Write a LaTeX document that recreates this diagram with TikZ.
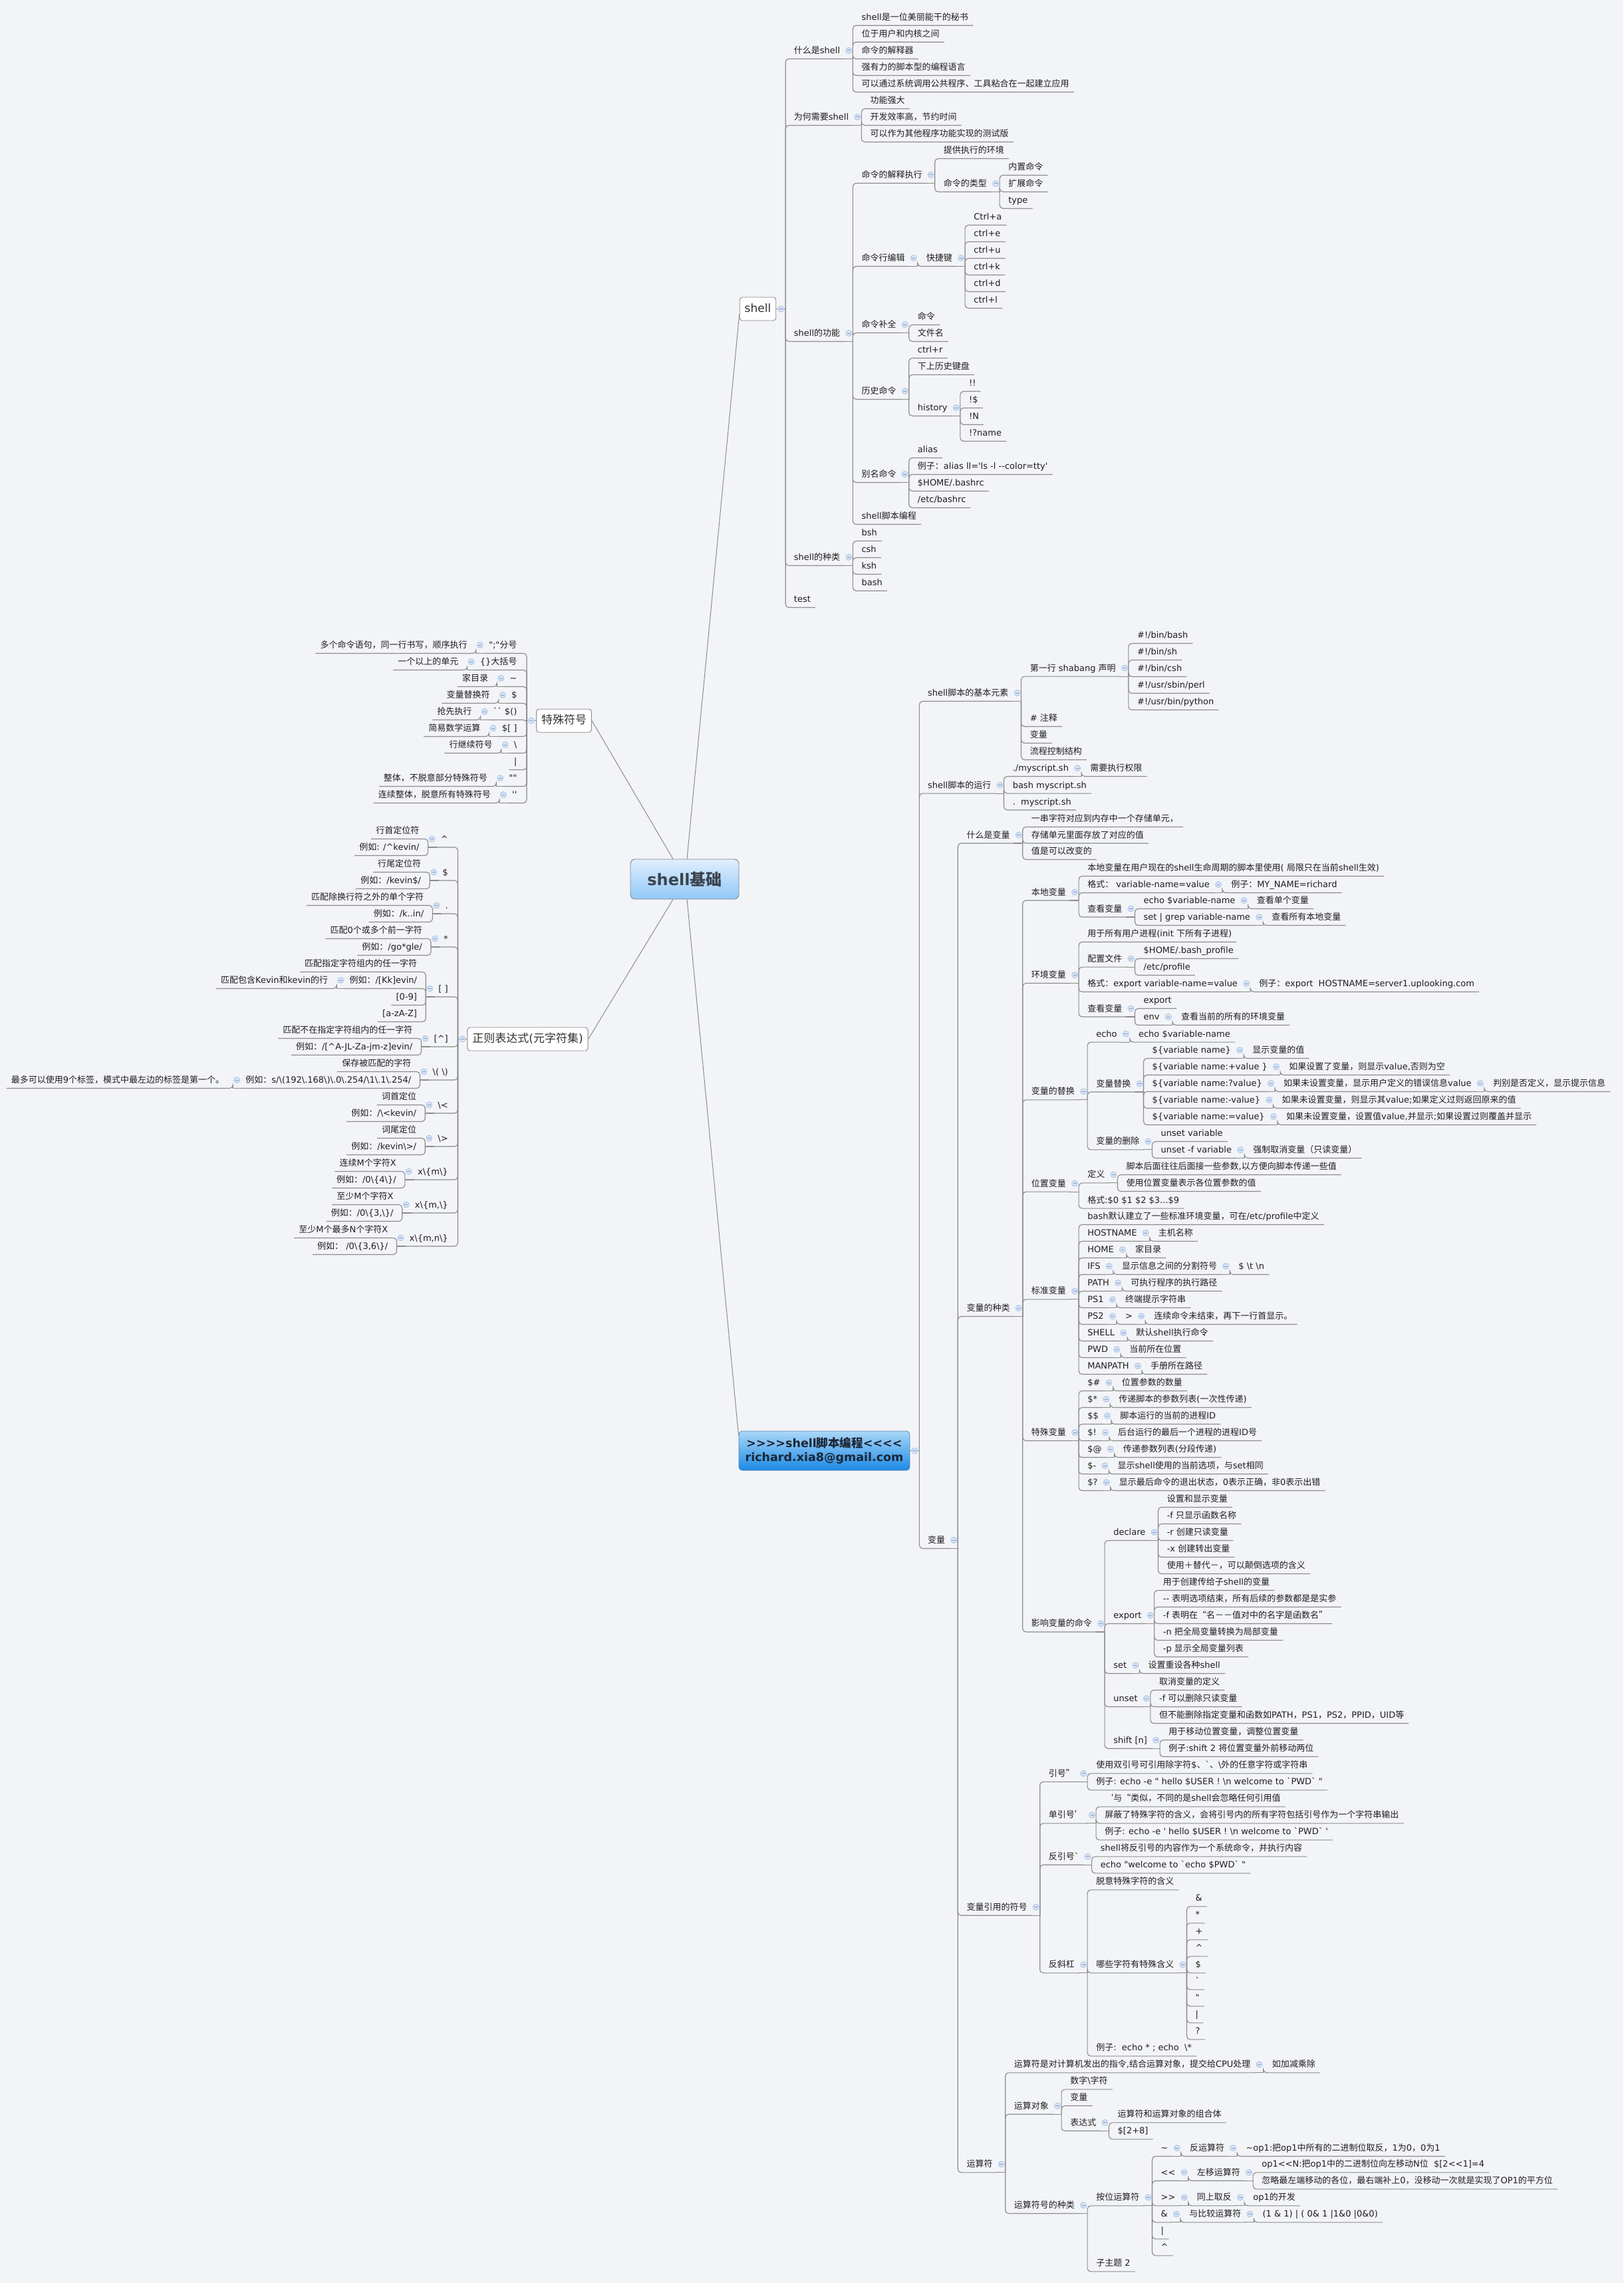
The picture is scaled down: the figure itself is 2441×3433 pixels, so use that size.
\documentclass[tikz,border=0pt]{standalone}
\usepackage{fontspec}
\usetikzlibrary{calc}
\newfontfamily\latinfam{DejaVu Sans}
\newfontfamily\cjkfam{Noto Sans CJK SC}
\XeTeXinterchartokenstate=1
\newXeTeXintercharclass\CJKcls
\newcount\mmcnt
\def\mmrange#1#2{\mmcnt=#1\relax\loop\XeTeXcharclass\mmcnt=\CJKcls\relax\ifnum\mmcnt<#2\relax\advance\mmcnt by 1\repeat}
\mmrange{"4E00}{"9FFF}
\mmrange{"3000}{"303F}
\mmrange{"FF00}{"FFEF}
\mmrange{"2018}{"2019}
\mmrange{"201C}{"201D}
\XeTeXinterchartoks 0 \CJKcls = {\cjkfam}
\XeTeXinterchartoks \CJKcls 0 = {\latinfam}
\XeTeXinterchartoks 4095 \CJKcls = {\cjkfam}
\XeTeXinterchartoks \CJKcls 4095 = {\latinfam}
\definecolor{bg}{RGB}{243,244,248}
\definecolor{lnc}{RGB}{140,140,140}
\definecolor{txtc}{RGB}{30,30,30}
\definecolor{txtc2}{RGB}{50,50,50}
\definecolor{boxc}{RGB}{135,135,135}
\definecolor{ccf}{RGB}{214,227,245}
\definecolor{ccl}{RGB}{168,190,222}
\definecolor{ccmc}{RGB}{125,155,205}
\definecolor{roottop}{RGB}{224,239,253}
\definecolor{rootbot}{RGB}{146,200,248}
\definecolor{rootline}{RGB}{120,130,140}
\definecolor{roottext}{RGB}{60,68,80}
\definecolor{bctop}{RGB}{170,215,248}
\definecolor{bcbot}{RGB}{26,138,230}
\definecolor{bcline}{RGB}{90,130,170}
\definecolor{bctext}{RGB}{28,38,52}
\newcommand\bk{\textbackslash}
\tikzset{
 tx/.style={inner sep=0pt, text height=11pt, text depth=2pt, text=txtc, font=\fontsize{13}{15}\selectfont\latinfam},
 ln/.style={draw=lnc, line width=1.15pt, rounded corners=5pt},
 ln2/.style={draw=lnc, line width=1pt},
 ccs/.style={draw=ccl, fill=ccf, line width=0.7pt},
 ccm/.style={draw=ccmc, line width=1pt},
 mbox/.style={draw=boxc, fill=white, rounded corners=4pt, line width=0.9pt, inner xsep=7.5pt, inner ysep=0pt, minimum height=35pt, text height=13pt, text depth=3pt, text=txtc2, font=\fontsize{17}{20}\selectfont\latinfam},
 rootbox/.style={draw=rootline, top color=roottop, bottom color=rootbot, rounded corners=7pt, line width=0.9pt, minimum width=163pt, minimum height=60pt, text=roottext, font=\fontsize{24}{28}\selectfont\latinfam\bfseries},
 bcbox/.style={draw=bcline, top color=bctop, bottom color=bcbot, rounded corners=5pt, line width=0.8pt, minimum width=257pt, minimum height=59pt, align=center, inner sep=2pt, text=bctext, font=\fontsize{17.5}{21.5}\selectfont\latinfam\bfseries}
}
\newcommand\mmRC[5][32]{\path (#3.east) ++(#1,0) coordinate (tmp);\node[tx,anchor=west] (#2) at (tmp |- 0,#4) {#5};}
\newcommand\mmLC[5][32]{\path (#3.west) ++(-#1,0) coordinate (tmp);\node[tx,anchor=east] (#2) at (tmp |- 0,#4) {#5};}
\newcommand\mmR[4]{\mmRC{#1}{#2}{#3}{#4}\draw[ln] ($(#2.east)+(19,12.5)$) |- ($(#1.east)+(7,12.5)$);}
\newcommand\mmL[4]{\mmLC{#1}{#2}{#3}{#4}\draw[ln] ($(#2.west)+(-19,12.5)$) |- ($(#1.west)+(-7,12.5)$);}
\newcommand\mmRB[4]{\mmRC[26.5]{#1}{#2}{#3}{#4}\draw[ln] ($(#2.east)+(14,0)$) |- ($(#1.east)+(7,12.5)$);}
\newcommand\mmLB[4]{\mmLC[28.5]{#1}{#2}{#3}{#4}\draw[ln] ($(#2.west)+(-14,0)$) |- ($(#1.west)+(-7,12.5)$);}
\newcommand\mmDot{\filldraw[ccs] (cp) circle[radius=4.5pt];\draw[ccm] ($(cp)+(-2.4,0)$) -- ($(cp)+(2.4,0)$);}
\newcommand\mmRP[1]{\draw[ln] ($(#1.east)+(5,12.5)$) -- ($(#1.east)+(19,12.5)$);\coordinate (cp) at ($(#1.east)+(13,0)$);\mmDot}
\newcommand\mmLP[1]{\draw[ln] ($(#1.west)+(-5,12.5)$) -- ($(#1.west)+(-19,12.5)$);\coordinate (cp) at ($(#1.west)+(-13,0)$);\mmDot}
\newcommand\mmRBP[1]{\draw[ln] (#1.east) -- ($(#1.east)+(14,0)$);\coordinate (cp) at ($(#1.east)+(7,0)$);\mmDot}
\newcommand\mmLBP[1]{\draw[ln] (#1.west) -- ($(#1.west)+(-14,0)$);\coordinate (cp) at ($(#1.west)+(-7,0)$);\mmDot}
\begin{document}
\begin{tikzpicture}[x=1pt,y=-1pt]
\useasboundingbox (0,0) rectangle (2441,3433);
\fill[bg] (0,0) rectangle (2441,3433);
% main boxes
\node[rootbox] (root) at (1029.5,1322) {shell基础};
\node[mbox] (sh) at (1139.5,464.5) {shell};
\node[mbox] (ts) at (848,1083.7) {特殊符号};
\node[mbox] (zz) at (793.5,1562.5) {正则表达式(元字符集)};
\node[bcbox] (bc) at (1239.5,2181.5) {>>>>shell脚本编程<<<<\\richard.xia8@gmail.com};
\draw[ln2] ($(root.north)+(3.5,0)$) -- ($(sh.west)+(0,8)$);
\draw[ln2] ($(root.north)+(-17.5,0)$) -- (ts.east);
\draw[ln2] ($(root.south)+(-17.5,0)$) -- (zz.east);
\draw[ln2] ($(root.south)+(3.5,0)$) -- ($(bc.west)+(0,-23)$);
% ===== shell =====
\mmRB{a1}{sh}{76}{什么是shell}
\mmR{a11}{a1}{25.7}{shell是一位美丽能干的秘书}
\mmR{a12}{a1}{50.7}{位于用户和内核之间}
\mmR{a13}{a1}{76}{命令的解释器}
\mmR{a14}{a1}{101}{强有力的脚本型的编程语言}
\mmR{a15}{a1}{126}{可以通过系统调用公共程序、工具粘合在一起建立应用}
\mmRP{a1}
\mmRB{a2}{sh}{176}{为何需要shell}
\mmR{a21}{a2}{151}{功能强大}
\mmR{a22}{a2}{176}{开发效率高，节约时间}
\mmR{a23}{a2}{201}{可以作为其他程序功能实现的测试版}
\mmRP{a2}
\mmRB{a3}{sh}{501}{shell的功能}
\mmR{a31}{a3}{263}{命令的解释执行}
\mmR{a311}{a31}{226}{提供执行的环境}
\mmR{a312}{a31}{276}{命令的类型}
\mmR{a3121}{a312}{251}{内置命令}
\mmR{a3122}{a312}{276}{扩展命令}
\mmR{a3123}{a312}{301}{type}
\mmRP{a312}\mmRP{a31}
\mmR{a32}{a3}{388}{命令行编辑}
\mmR{a321}{a32}{388}{快捷键}
\mmR{a3211}{a321}{326}{Ctrl+a}
\mmR{a3212}{a321}{351}{ctrl+e}
\mmR{a3213}{a321}{376}{ctrl+u}
\mmR{a3214}{a321}{401}{ctrl+k}
\mmR{a3215}{a321}{426}{ctrl+d}
\mmR{a3216}{a321}{451}{ctrl+l}
\mmRP{a321}\mmRP{a32}
\mmR{a33}{a3}{488}{命令补全}
\mmR{a331}{a33}{476}{命令}
\mmR{a332}{a33}{501}{文件名}
\mmRP{a33}
\mmR{a34}{a3}{588}{历史命令}
\mmR{a341}{a34}{526}{ctrl+r}
\mmR{a342}{a34}{551}{下上历史键盘}
\mmR{a343}{a34}{613}{history}
\mmR{a3431}{a343}{576}{!!}
\mmR{a3432}{a343}{601}{!\$}
\mmR{a3433}{a343}{626}{!N}
\mmR{a3434}{a343}{651}{!?name}
\mmRP{a343}\mmRP{a34}
\mmR{a35}{a3}{713}{别名命令}
\mmR{a351}{a35}{676}{alias}
\mmR{a352}{a35}{701}{例子：alias ll='ls -l --color=tty'}
\mmR{a353}{a35}{726}{\$HOME/.bashrc}
\mmR{a354}{a35}{751}{/etc/bashrc}
\mmRP{a35}
\mmR{a36}{a3}{776}{shell脚本编程}
\mmRP{a3}
\mmRB{a4}{sh}{838}{shell的种类}
\mmR{a41}{a4}{801}{bsh}
\mmR{a42}{a4}{826}{csh}
\mmR{a43}{a4}{851}{ksh}
\mmR{a44}{a4}{876}{bash}
\mmRP{a4}
\mmRB{a5}{sh}{901}{test}
\mmRBP{sh}
% ===== special symbols =====
\mmLB{b1}{ts}{970}{";"分号}\mmL{b1a}{b1}{970}{多个命令语句，同一行书写，顺序执行}\mmLP{b1}
\mmLB{b2}{ts}{995}{\{\}大括号}\mmL{b2a}{b2}{995}{一个以上的单元}\mmLP{b2}
\mmLB{b3}{ts}{1020}{\textasciitilde}\mmL{b3a}{b3}{1020}{家目录}\mmLP{b3}
\mmLB{b4}{ts}{1045}{\$}\mmL{b4a}{b4}{1045}{变量替换符}\mmLP{b4}
\mmLB{b5}{ts}{1070}{`` \$()}\mmL{b5a}{b5}{1070}{抢先执行}\mmLP{b5}
\mmLB{b6}{ts}{1095}{\$[ ]}\mmL{b6a}{b6}{1095}{简易数学运算}\mmLP{b6}
\mmLB{b7}{ts}{1120}{\bk}\mmL{b7a}{b7}{1120}{行继续符号}\mmLP{b7}
\mmLB{b8}{ts}{1145}{|}
\mmLB{b9}{ts}{1170}{""}\mmL{b9a}{b9}{1170}{整体，不脱意部分特殊符号}\mmLP{b9}
\mmLB{b10}{ts}{1195}{''}\mmL{b10a}{b10}{1195}{连续整体，脱意所有特殊符号}\mmLP{b10}
\mmLBP{ts}
% ===== regex =====
\mmLB{c1}{zz}{1261.5}{\textasciicircum}
\mmL{c1a}{c1}{1249}{行首定位符}
\mmL{c1b}{c1}{1274}{例如: /\textasciicircum kevin/}
\mmLP{c1}
\mmLB{c2}{zz}{1311.5}{\$}
\mmL{c2a}{c2}{1299}{行尾定位符}
\mmL{c2b}{c2}{1324}{例如：/kevin\$/}
\mmLP{c2}
\mmLB{c3}{zz}{1361.5}{.}
\mmL{c3a}{c3}{1349}{匹配除换行符之外的单个字符}
\mmL{c3b}{c3}{1374}{例如：/k..in/}
\mmLP{c3}
\mmLB{c4}{zz}{1411.5}{*}
\mmL{c4a}{c4}{1399}{匹配0个或多个前一字符}
\mmL{c4b}{c4}{1424}{例如：/go*gle/}
\mmLP{c4}
\mmLB{c5}{zz}{1486.5}{[ ]}
\mmL{c5a}{c5}{1449}{匹配指定字符组内的任一字符}
\mmL{c5b}{c5}{1474}{例如：/[Kk]evin/}
\mmL{c5b1}{c5b}{1474}{匹配包含Kevin和kevin的行}\mmLP{c5b}
\mmL{c5c}{c5}{1499}{[0-9]}
\mmL{c5d}{c5}{1524}{[a-zA-Z]}
\mmLP{c5}
\mmLB{c6}{zz}{1561.5}{[\textasciicircum]}
\mmL{c6a}{c6}{1549}{匹配不在指定字符组内的任一字符}
\mmL{c6b}{c6}{1574}{例如：/[\textasciicircum A-JL-Za-jm-z]evin/}
\mmLP{c6}
\mmLB{c7}{zz}{1611.5}{\bk( \bk)}
\mmL{c7a}{c7}{1599}{保存被匹配的字符}
\mmL{c7b}{c7}{1624}{例如：s/\bk(192\bk.168\bk)\bk.0\bk.254/\bk 1\bk.1\bk.254/}
\mmL{c7b1}{c7b}{1624}{最多可以使用9个标签，模式中最左边的标签是第一个。}\mmLP{c7b}
\mmLP{c7}
\mmLB{c8}{zz}{1661.5}{\bk<}
\mmL{c8a}{c8}{1649}{词首定位}
\mmL{c8b}{c8}{1674}{例如：/\bk<kevin/}
\mmLP{c8}
\mmLB{c9}{zz}{1711.5}{\bk>}
\mmL{c9a}{c9}{1699}{词尾定位}
\mmL{c9b}{c9}{1724}{例如：/kevin\bk>/}
\mmLP{c9}
\mmLB{c10}{zz}{1761.5}{x\bk\{m\bk\}}
\mmL{c10a}{c10}{1749}{连续M个字符X}
\mmL{c10b}{c10}{1774}{例如：/0\bk\{4\bk\}/}
\mmLP{c10}
\mmLB{c11}{zz}{1811.5}{x\bk\{m,\bk\}}
\mmL{c11a}{c11}{1799}{至少M个字符X}
\mmL{c11b}{c11}{1824}{例如：/0\bk\{3,\bk\}/}
\mmLP{c11}
\mmLB{c12}{zz}{1861.5}{x\bk\{m,n\bk\}}
\mmL{c12a}{c12}{1849}{至少M个最多N个字符X}
\mmL{c12b}{c12}{1874}{例如： /0\bk\{3,6\bk\}/}
\mmLP{c12}
\mmLBP{zz}
% ===== shell script programming =====
\mmRB{d1}{bc}{1042}{shell脚本的基本元素}
\mmR{d11}{d1}{1004.6}{第一行 shabang 声明}
\mmR{d111}{d11}{955}{\#!/bin/bash}
\mmR{d112}{d11}{980}{\#!/bin/sh}
\mmR{d113}{d11}{1005}{\#!/bin/csh}
\mmR{d114}{d11}{1030}{\#!/usr/sbin/perl}
\mmR{d115}{d11}{1055}{\#!/usr/bin/python}
\mmRP{d11}
\mmR{d12}{d1}{1080}{\# 注释}
\mmR{d13}{d1}{1105}{变量}
\mmR{d14}{d1}{1130}{流程控制结构}
\mmRP{d1}
\mmRB{d2}{bc}{1180.6}{shell脚本的运行}
\mmR{d21}{d2}{1155}{./myscript.sh}\mmR{d21a}{d21}{1155}{需要执行权限}\mmRP{d21}
\mmR{d22}{d2}{1180.6}{bash myscript.sh}
\mmR{d23}{d2}{1205.5}{.\ \ myscript.sh}
\mmRP{d2}
\mmRB{d3}{bc}{2316}{变量}
\mmR{e1}{d3}{1255.5}{什么是变量}
\mmR{e11}{e1}{1231}{一串字符对应到内存中一个存储单元，}
\mmR{e12}{e1}{1255.5}{存储单元里面存放了对应的值}
\mmR{e13}{e1}{1280}{值是可以改变的}
\mmRP{e1}
\mmR{e2}{d3}{1967}{变量的种类}
\mmR{f1}{e2}{1341.5}{本地变量}
\mmR{f11}{f1}{1305}{本地变量在用户现在的shell生命周期的脚本里使用( 局限只在当前shell生效)}
\mmR{f12}{f1}{1330}{格式：\ variable-name=value}\mmR{f12a}{f12}{1330}{例子：MY\_NAME=richard}\mmRP{f12}
\mmR{f13}{f1}{1366.5}{查看变量}
\mmR{f131}{f13}{1354}{echo \$variable-name}\mmR{f131a}{f131}{1354}{查看单个变量}\mmRP{f131}
\mmR{f132}{f13}{1379}{set | grep variable-name}\mmR{f132a}{f132}{1379}{查看所有本地变量}\mmRP{f132}
\mmRP{f13}
\mmRP{f1}
\mmR{f2}{e2}{1466}{环境变量}
\mmR{f21}{f2}{1404}{用于所有用户进程(init 下所有子进程)}
\mmR{f22}{f2}{1441.6}{配置文件}
\mmR{f221}{f22}{1429}{\$HOME/.bash\_profile}
\mmR{f222}{f22}{1454}{/etc/profile}
\mmRP{f22}
\mmR{f23}{f2}{1479}{格式：export variable-name=value}\mmR{f23a}{f23}{1479}{例子：export\ \ HOSTNAME=server1.uplooking.com}\mmRP{f23}
\mmR{f24}{f2}{1516.5}{查看变量}
\mmR{f241}{f24}{1504}{export}
\mmR{f242}{f24}{1529}{env}\mmR{f242a}{f242}{1529}{查看当前的所有的环境变量}\mmRP{f242}
\mmRP{f24}
\mmRP{f2}
\mmR{f3}{e2}{1641.4}{变量的替换}
\mmR{f31}{f3}{1554.6}{echo}\mmR{f31a}{f31}{1554.6}{echo \$variable-name}\mmRP{f31}
\mmR{f32}{f3}{1629.5}{变量替换}
\mmR{f321}{f32}{1579}{\$\{variable name\}}\mmR{f321a}{f321}{1579}{显示变量的值}\mmRP{f321}
\mmR{f322}{f32}{1604}{\$\{variable name:+value \}}\mmR{f322a}{f322}{1604}{如果设置了变量，则显示value,否则为空}\mmRP{f322}
\mmR{f323}{f32}{1629}{\$\{variable name:?value\}}\mmR{f323a}{f323}{1629}{如果未设置变量，显示用户定义的错误信息value}\mmR{f323b}{f323a}{1629}{判别是否定义，显示提示信息}\mmRP{f323a}\mmRP{f323}
\mmR{f324}{f32}{1654}{\$\{variable name:-value\}}\mmR{f324a}{f324}{1654}{如果未设置变量，则显示其value;如果定义过则返回原来的值}\mmRP{f324}
\mmR{f325}{f32}{1679}{\$\{variable name:=value\}}\mmR{f325a}{f325}{1679}{如果未设置变量，设置值value,并显示;如果设置过则覆盖并显示}\mmRP{f325}
\mmRP{f32}
\mmR{f33}{f3}{1716.4}{变量的删除}
\mmR{f331}{f33}{1704}{unset variable}
\mmR{f332}{f33}{1729}{unset -f variable}\mmR{f332a}{f332}{1729}{强制取消变量（只读变量）}\mmRP{f332}
\mmRP{f33}
\mmRP{f3}
\mmR{f4}{e2}{1779.6}{位置变量}
\mmR{f41}{f4}{1766.4}{定义}
\mmR{f411}{f41}{1754}{脚本后面往往后面接一些参数,以方便向脚本传递一些值}
\mmR{f412}{f41}{1779}{使用位置变量表示各位置参数的值}
\mmRP{f41}
\mmR{f42}{f4}{1804.6}{格式:\$0 \$1 \$2 \$3...\$9}
\mmRP{f4}
\mmR{f5}{e2}{1941.4}{标准变量}
\mmR{f51}{f5}{1829}{bash默认建立了一些标准环境变量，可在/etc/profile中定义}
\mmR{f52}{f5}{1854}{HOSTNAME}\mmR{f52a}{f52}{1854}{主机名称}\mmRP{f52}
\mmR{f53}{f5}{1879}{HOME}\mmR{f53a}{f53}{1879}{家目录}\mmRP{f53}
\mmR{f54}{f5}{1904}{IFS}\mmR{f54a}{f54}{1904}{显示信息之间的分割符号}\mmR{f54b}{f54a}{1904}{\$ \bk t \bk n}\mmRP{f54a}\mmRP{f54}
\mmR{f55}{f5}{1929}{PATH}\mmR{f55a}{f55}{1929}{可执行程序的执行路径}\mmRP{f55}
\mmR{f56}{f5}{1954}{PS1}\mmR{f56a}{f56}{1954}{终端提示字符串}\mmRP{f56}
\mmR{f57}{f5}{1979}{PS2}\mmR{f57a}{f57}{1979}{>}\mmR{f57b}{f57a}{1979}{连续命令未结束，再下一行首显示。}\mmRP{f57a}\mmRP{f57}
\mmR{f58}{f5}{2004}{SHELL}\mmR{f58a}{f58}{2004}{默认shell执行命令}\mmRP{f58}
\mmR{f59}{f5}{2029}{PWD}\mmR{f59a}{f59}{2029}{当前所在位置}\mmRP{f59}
\mmR{f5x}{f5}{2054}{MANPATH}\mmR{f5xa}{f5x}{2054}{手册所在路径}\mmRP{f5x}
\mmRP{f5}
\mmR{f6}{e2}{2154}{特殊变量}
\mmR{f61}{f6}{2079}{\$\#}\mmR{f61a}{f61}{2079}{位置参数的数量}\mmRP{f61}
\mmR{f62}{f6}{2104}{\$*}\mmR{f62a}{f62}{2104}{传递脚本的参数列表(一次性传递)}\mmRP{f62}
\mmR{f63}{f6}{2129}{\$\$}\mmR{f63a}{f63}{2129}{脚本运行的当前的进程ID}\mmRP{f63}
\mmR{f64}{f6}{2154}{\$!}\mmR{f64a}{f64}{2154}{后台运行的最后一个进程的进程ID号}\mmRP{f64}
\mmR{f65}{f6}{2179}{\$@}\mmR{f65a}{f65}{2179}{传递参数列表(分段传递)}\mmRP{f65}
\mmR{f66}{f6}{2204}{\$-}\mmR{f66a}{f66}{2204}{显示shell使用的当前选项，与set相同}\mmRP{f66}
\mmR{f67}{f6}{2229}{\$?}\mmR{f67a}{f67}{2229}{显示最后命令的退出状态，0表示正确，非0表示出错}\mmRP{f67}
\mmRP{f6}
\mmR{f7}{e2}{2441.4}{影响变量的命令}
\mmR{g1}{f7}{2304}{declare}
\mmR{g11}{g1}{2254}{设置和显示变量}
\mmR{g12}{g1}{2279}{-f 只显示函数名称}
\mmR{g13}{g1}{2304}{-r 创建只读变量}
\mmR{g14}{g1}{2329}{-x 创建转出变量}
\mmR{g15}{g1}{2354}{使用＋替代－，可以颠倒选项的含义}
\mmRP{g1}
\mmR{g2}{f7}{2429}{export}
\mmR{g21}{g2}{2379}{用于创建传给子shell的变量}
\mmR{g22}{g2}{2404}{-- 表明选项结束，所有后续的参数都是是实参}
\mmR{g23}{g2}{2429}{-f 表明在“名－－值对中的名字是函数名”}
\mmR{g24}{g2}{2454}{-n 把全局变量转换为局部变量}
\mmR{g25}{g2}{2479}{-p 显示全局变量列表}
\mmRP{g2}
\mmR{g3}{f7}{2504}{set}\mmR{g3a}{g3}{2504}{设置重设各种shell}\mmRP{g3}
\mmR{g4}{f7}{2554}{unset}
\mmR{g41}{g4}{2529}{取消变量的定义}
\mmR{g42}{g4}{2554}{-f 可以删除只读变量}
\mmR{g43}{g4}{2579}{但不能删除指定变量和函数如PATH，PS1，PS2，PPID，UID等}
\mmRP{g4}
\mmR{g5}{f7}{2616.7}{shift [n]}
\mmR{g51}{g5}{2604}{用于移动位置变量，调整位置变量}
\mmR{g52}{g5}{2629}{例子:shift 2 将位置变量外前移动两位}
\mmRP{g5}
\mmRP{f7}
\mmRP{e2}
\mmR{e3}{d3}{2867.7}{变量引用的符号}
\mmR{h1}{e3}{2666.8}{引号”}
\mmR{h11}{h1}{2654.3}{使用双引号可引用除字符\$、`、\bk 外的任意字符或字符串}
\mmR{h12}{h1}{2679.3}{例子: echo -e " hello \$USER ! \bk n welcome to `PWD` "}
\mmRP{h1}
\mmR{h2}{e3}{2729.3}{单引号’}
\mmR{h21}{h2}{2704.3}{‘与“类似，不同的是shell会忽略任何引用值}
\mmR{h22}{h2}{2729.3}{屏蔽了特殊字符的含义，会将引号内的所有字符包括引号作为一个字符串输出}
\mmR{h23}{h2}{2754.3}{例子: echo -e ' hello \$USER ! \bk n welcome to `PWD` '}
\mmRP{h2}
\mmR{h3}{e3}{2791.7}{反引号`}
\mmR{h31}{h3}{2779.3}{shell将反引号的内容作为一个系统命令，并执行内容}
\mmR{h32}{h3}{2804.3}{echo "welcome to `echo \$PWD` "}
\mmRP{h3}
\mmR{h4}{e3}{2954.3}{反斜杠}
\mmR{h41}{h4}{2829.3}{脱意特殊字符的含义}
\mmR{h42}{h4}{2954.3}{哪些字符有特殊含义}
\mmR{h421}{h42}{2854.3}{\&}
\mmR{h422}{h42}{2879.3}{*}
\mmR{h423}{h42}{2904.3}{+}
\mmR{h424}{h42}{2929.3}{\textasciicircum}
\mmR{h425}{h42}{2954.3}{\$}
\mmR{h426}{h42}{2979.3}{`}
\mmR{h427}{h42}{3004.3}{"}
\mmR{h428}{h42}{3029.3}{|}
\mmR{h429}{h42}{3054.3}{?}
\mmRP{h42}
\mmR{h43}{h4}{3079.3}{例子:\ \ echo * ; echo\ \ \bk *}
\mmRP{h4}
\mmRP{e3}
\mmR{d4}{d3}{3254.3}{运算符}
\mmR{k1}{d4}{3104.3}{运算符是对计算机发出的指令,结合运算对象，提交给CPU处理}\mmR{k1a}{k1}{3104.3}{如加减乘除}\mmRP{k1}
\mmR{k2}{d4}{3166.7}{运算对象}
\mmR{k21}{k2}{3129.3}{数字\bk 字符}
\mmR{k22}{k2}{3154}{变量}
\mmR{k23}{k2}{3191.7}{表达式}
\mmR{k231}{k23}{3179.3}{运算符和运算对象的组合体}
\mmR{k232}{k23}{3204.3}{\$[2+8]}
\mmRP{k23}
\mmRP{k2}
\mmR{k3}{d4}{3316}{运算符号的种类}
\mmR{m1}{k3}{3304.3}{按位运算符}
\mmR{m11}{m1}{3230}{\textasciitilde}\mmR{m11a}{m11}{3230}{反运算符}\mmR{m11b}{m11a}{3230}{\textasciitilde op1:把op1中所有的二进制位取反，1为0，0为1}\mmRP{m11a}\mmRP{m11}
\mmR{m12}{m1}{3266.7}{<<}\mmR{m12a}{m12}{3266.7}{左移运算符}
\mmR{m12b}{m12a}{3254.3}{op1<<N:把op1中的二进制位向左移动N位\ \ \$[2<<1]=4}
\mmR{m12c}{m12a}{3279.3}{忽略最左端移动的各位，最右端补上0，没移动一次就是实现了OP1的平方位}
\mmRP{m12a}\mmRP{m12}
\mmR{m13}{m1}{3304.3}{>>}\mmR{m13a}{m13}{3304.3}{同上取反}\mmR{m13b}{m13a}{3304.3}{op1的开发}\mmRP{m13a}\mmRP{m13}
\mmR{m14}{m1}{3329.3}{\&}\mmR{m14a}{m14}{3329.3}{与比较运算符}\mmR{m14b}{m14a}{3329.3}{(1 \& 1) | ( 0\& 1 |1\&0 |0\&0)}\mmRP{m14a}\mmRP{m14}
\mmR{m15}{m1}{3354.3}{|}
\mmR{m16}{m1}{3379.3}{\textasciicircum}
\mmRP{m1}
\mmR{m2}{k3}{3403.3}{子主题 2}
\mmRP{k3}
\mmRP{d4}
\mmRP{d3}
\mmRBP{bc}
\end{tikzpicture}
\end{document}
